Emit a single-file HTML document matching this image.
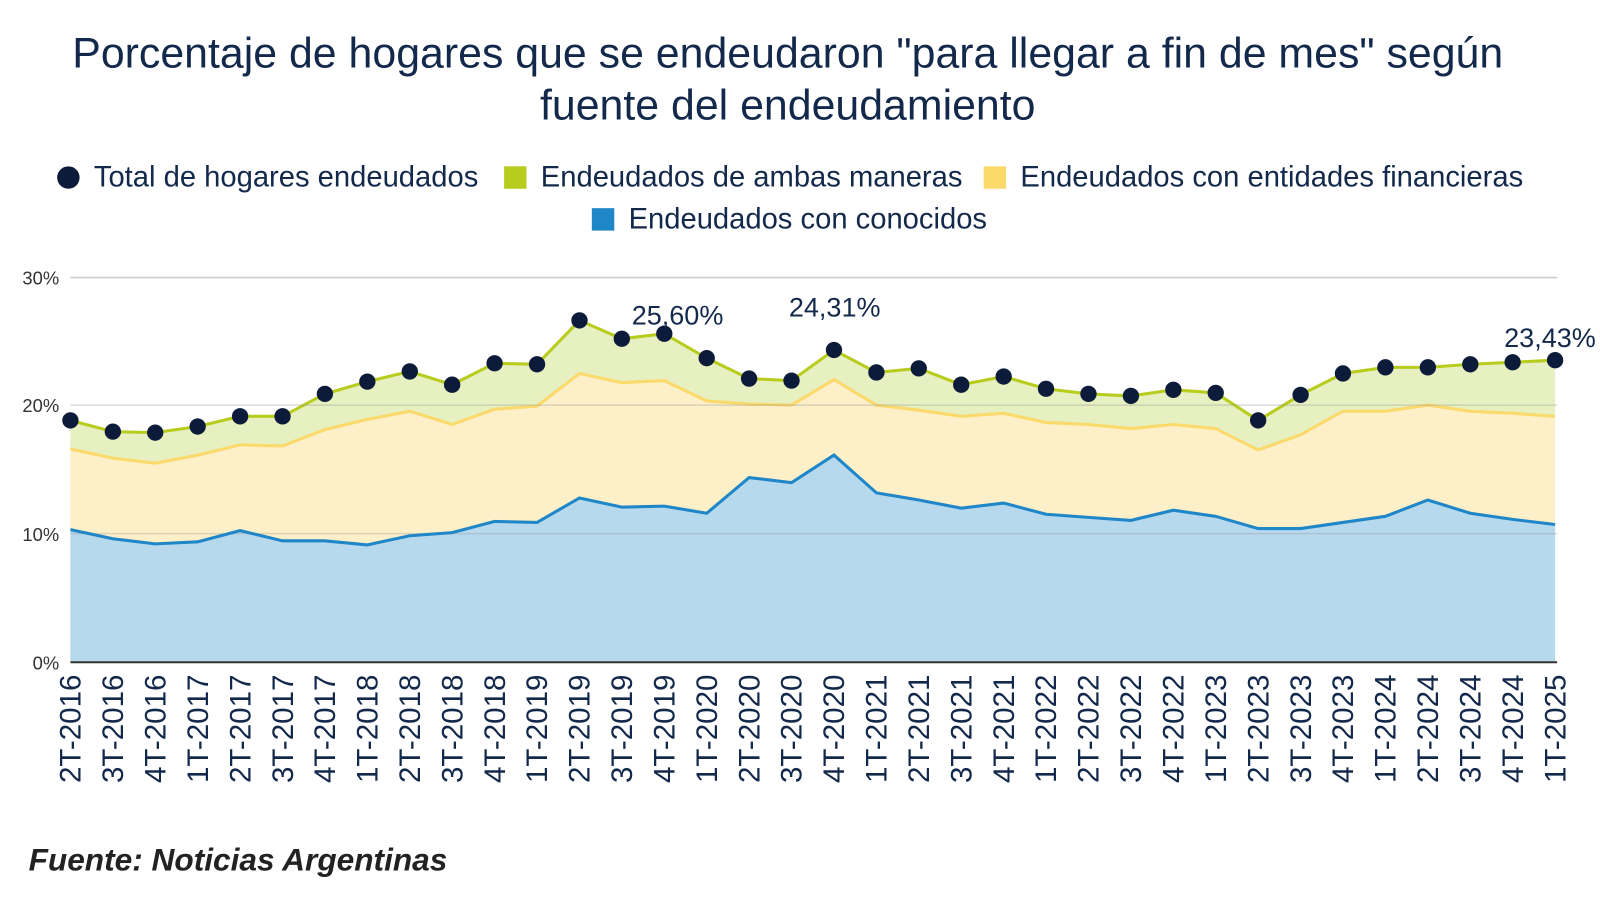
<!DOCTYPE html>
<html><head><meta charset="utf-8"><style>
html,body{margin:0;padding:0;background:#fff;}
body{width:1600px;height:900px;overflow:hidden;font-family:"Liberation Sans",sans-serif;}
</style></head><body>
<svg width="1600" height="900" viewBox="0 0 1600 900" xmlns="http://www.w3.org/2000/svg" font-family="Liberation Sans, sans-serif">
<g transform="scale(1.0204)">
<text x="772" y="66" text-anchor="middle" font-size="42" fill="#13294b">Porcentaje de hogares que se endeudaron "para llegar a fin de mes" según</text>
<text x="772" y="117" text-anchor="middle" font-size="42" fill="#13294b">fuente del endeudamiento</text>
<circle cx="67" cy="174" r="11" fill="#0d1b3a"/>
<text x="92" y="183" font-size="28.6" fill="#13294b">Total de hogares endeudados</text>
<rect x="494" y="163" width="22" height="22" fill="#b8cc1e"/>
<text x="530" y="183" font-size="28.6" fill="#13294b">Endeudados de ambas maneras</text>
<rect x="964" y="163" width="22" height="22" fill="#fbd96b"/>
<text x="1000" y="183" font-size="28.6" fill="#13294b">Endeudados con entidades financieras</text>
<rect x="580" y="204" width="22" height="22" fill="#1f86c8"/>
<text x="616" y="224" font-size="28.6" fill="#13294b">Endeudados con conocidos</text>
<g font-size="18" fill="#333" text-anchor="end">
<text x="58" y="279">30%</text><text x="58" y="404">20%</text><text x="58" y="530">10%</text><text x="58" y="656">0%</text>
</g>
<line x1="69" y1="272" x2="1526" y2="272" stroke="#ccc" stroke-width="1.5"/>
<polygon fill="#e6f0c0" points="69,412 110.6,423 152.1,424 193.7,418 235.3,408 276.9,408 318.4,386 360,374 401.6,364 443.1,377 484.7,356 526.3,357 567.9,314 609.4,332 651,327 692.6,351 734.1,371 775.7,373 817.3,343 858.9,365 900.4,361 942,377 983.6,369 1025.1,381 1066.7,386 1108.3,388 1149.9,382 1191.4,385 1233,412 1274.6,387 1316.1,366 1357.7,360 1399.3,360 1440.9,357 1482.4,355 1524,353 1524,649 69,649"/>
<polyline fill="none" stroke="#b8cc1e" stroke-width="3" points="69,412 110.6,423 152.1,424 193.7,418 235.3,408 276.9,408 318.4,386 360,374 401.6,364 443.1,377 484.7,356 526.3,357 567.9,314 609.4,332 651,327 692.6,351 734.1,371 775.7,373 817.3,343 858.9,365 900.4,361 942,377 983.6,369 1025.1,381 1066.7,386 1108.3,388 1149.9,382 1191.4,385 1233,412 1274.6,387 1316.1,366 1357.7,360 1399.3,360 1440.9,357 1482.4,355 1524,353"/>
<polygon fill="#fdf0c8" points="69,440 110.6,449 152.1,454 193.7,446 235.3,436 276.9,437 318.4,421 360,411 401.6,403 443.1,416 484.7,401 526.3,398 567.9,366 609.4,375 651,373 692.6,393 734.1,396 775.7,397 817.3,372 858.9,397 900.4,402 942,408 983.6,405 1025.1,414 1066.7,416 1108.3,420 1149.9,416 1191.4,420 1233,441 1274.6,426 1316.1,403 1357.7,403 1399.3,397 1440.9,403 1482.4,405 1524,408 1524,649 69,649"/>
<polyline fill="none" stroke="#fbd96b" stroke-width="3" points="69,440 110.6,449 152.1,454 193.7,446 235.3,436 276.9,437 318.4,421 360,411 401.6,403 443.1,416 484.7,401 526.3,398 567.9,366 609.4,375 651,373 692.6,393 734.1,396 775.7,397 817.3,372 858.9,397 900.4,402 942,408 983.6,405 1025.1,414 1066.7,416 1108.3,420 1149.9,416 1191.4,420 1233,441 1274.6,426 1316.1,403 1357.7,403 1399.3,397 1440.9,403 1482.4,405 1524,408"/>
<polygon fill="#b7d9ee" points="69,519 110.6,528 152.1,533 193.7,531 235.3,520 276.9,530 318.4,530 360,534 401.6,525 443.1,522 484.7,511 526.3,512 567.9,488 609.4,497 651,496 692.6,503 734.1,468 775.7,473 817.3,446 858.9,483 900.4,490 942,498 983.6,493 1025.1,504 1066.7,507 1108.3,510 1149.9,500 1191.4,506 1233,518 1274.6,518 1316.1,512 1357.7,506 1399.3,490 1440.9,503 1482.4,509 1524,514 1524,649 69,649"/>
<line x1="69" y1="397" x2="1526" y2="397" stroke="#999" stroke-opacity="0.35" stroke-width="1.5"/>
<line x1="69" y1="523" x2="1526" y2="523" stroke="#999" stroke-opacity="0.35" stroke-width="1.5"/>
<polyline fill="none" stroke="#1f86c8" stroke-width="3" points="69,519 110.6,528 152.1,533 193.7,531 235.3,520 276.9,530 318.4,530 360,534 401.6,525 443.1,522 484.7,511 526.3,512 567.9,488 609.4,497 651,496 692.6,503 734.1,468 775.7,473 817.3,446 858.9,483 900.4,490 942,498 983.6,493 1025.1,504 1066.7,507 1108.3,510 1149.9,500 1191.4,506 1233,518 1274.6,518 1316.1,512 1357.7,506 1399.3,490 1440.9,503 1482.4,509 1524,514"/>
<line x1="69" y1="649" x2="1526" y2="649" stroke="#333" stroke-width="2"/>
<g fill="#0d1b3a">
<circle cx="69" cy="412" r="8"/><circle cx="110.6" cy="423" r="8"/><circle cx="152.1" cy="424" r="8"/><circle cx="193.7" cy="418" r="8"/><circle cx="235.3" cy="408" r="8"/><circle cx="276.9" cy="408" r="8"/><circle cx="318.4" cy="386" r="8"/><circle cx="360" cy="374" r="8"/><circle cx="401.6" cy="364" r="8"/><circle cx="443.1" cy="377" r="8"/><circle cx="484.7" cy="356" r="8"/><circle cx="526.3" cy="357" r="8"/><circle cx="567.9" cy="314" r="8"/><circle cx="609.4" cy="332" r="8"/><circle cx="651" cy="327" r="8"/><circle cx="692.6" cy="351" r="8"/><circle cx="734.1" cy="371" r="8"/><circle cx="775.7" cy="373" r="8"/><circle cx="817.3" cy="343" r="8"/><circle cx="858.9" cy="365" r="8"/><circle cx="900.4" cy="361" r="8"/><circle cx="942" cy="377" r="8"/><circle cx="983.6" cy="369" r="8"/><circle cx="1025.1" cy="381" r="8"/><circle cx="1066.7" cy="386" r="8"/><circle cx="1108.3" cy="388" r="8"/><circle cx="1149.9" cy="382" r="8"/><circle cx="1191.4" cy="385" r="8"/><circle cx="1233" cy="412" r="8"/><circle cx="1274.6" cy="387" r="8"/><circle cx="1316.1" cy="366" r="8"/><circle cx="1357.7" cy="360" r="8"/><circle cx="1399.3" cy="360" r="8"/><circle cx="1440.9" cy="357" r="8"/><circle cx="1482.4" cy="355" r="8"/><circle cx="1524" cy="353" r="8"/>
</g>
<g font-size="26.5" fill="#13294b" text-anchor="middle">
<text x="664" y="318">25,60%</text><text x="818" y="310">24,31%</text><text x="1519" y="340">23,43%</text>
</g>
<g font-size="29" fill="#13294b" text-anchor="end">
<text transform="translate(79,661) rotate(-90)">2T-2016</text>
<text transform="translate(120.6,661) rotate(-90)">3T-2016</text>
<text transform="translate(162.1,661) rotate(-90)">4T-2016</text>
<text transform="translate(203.7,661) rotate(-90)">1T-2017</text>
<text transform="translate(245.3,661) rotate(-90)">2T-2017</text>
<text transform="translate(286.9,661) rotate(-90)">3T-2017</text>
<text transform="translate(328.4,661) rotate(-90)">4T-2017</text>
<text transform="translate(370,661) rotate(-90)">1T-2018</text>
<text transform="translate(411.6,661) rotate(-90)">2T-2018</text>
<text transform="translate(453.1,661) rotate(-90)">3T-2018</text>
<text transform="translate(494.7,661) rotate(-90)">4T-2018</text>
<text transform="translate(536.3,661) rotate(-90)">1T-2019</text>
<text transform="translate(577.9,661) rotate(-90)">2T-2019</text>
<text transform="translate(619.4,661) rotate(-90)">3T-2019</text>
<text transform="translate(661,661) rotate(-90)">4T-2019</text>
<text transform="translate(702.6,661) rotate(-90)">1T-2020</text>
<text transform="translate(744.1,661) rotate(-90)">2T-2020</text>
<text transform="translate(785.7,661) rotate(-90)">3T-2020</text>
<text transform="translate(827.3,661) rotate(-90)">4T-2020</text>
<text transform="translate(868.9,661) rotate(-90)">1T-2021</text>
<text transform="translate(910.4,661) rotate(-90)">2T-2021</text>
<text transform="translate(952,661) rotate(-90)">3T-2021</text>
<text transform="translate(993.6,661) rotate(-90)">4T-2021</text>
<text transform="translate(1035.1,661) rotate(-90)">1T-2022</text>
<text transform="translate(1076.7,661) rotate(-90)">2T-2022</text>
<text transform="translate(1118.3,661) rotate(-90)">3T-2022</text>
<text transform="translate(1159.9,661) rotate(-90)">4T-2022</text>
<text transform="translate(1201.4,661) rotate(-90)">1T-2023</text>
<text transform="translate(1243,661) rotate(-90)">2T-2023</text>
<text transform="translate(1284.6,661) rotate(-90)">3T-2023</text>
<text transform="translate(1326.1,661) rotate(-90)">4T-2023</text>
<text transform="translate(1367.7,661) rotate(-90)">1T-2024</text>
<text transform="translate(1409.3,661) rotate(-90)">2T-2024</text>
<text transform="translate(1450.9,661) rotate(-90)">3T-2024</text>
<text transform="translate(1492.4,661) rotate(-90)">4T-2024</text>
<text transform="translate(1534,661) rotate(-90)">1T-2025</text>
</g>
<text x="28" y="853" font-size="31" font-weight="bold" font-style="italic" fill="#222">Fuente: Noticias Argentinas</text>
</g>
</svg>
</body></html>
